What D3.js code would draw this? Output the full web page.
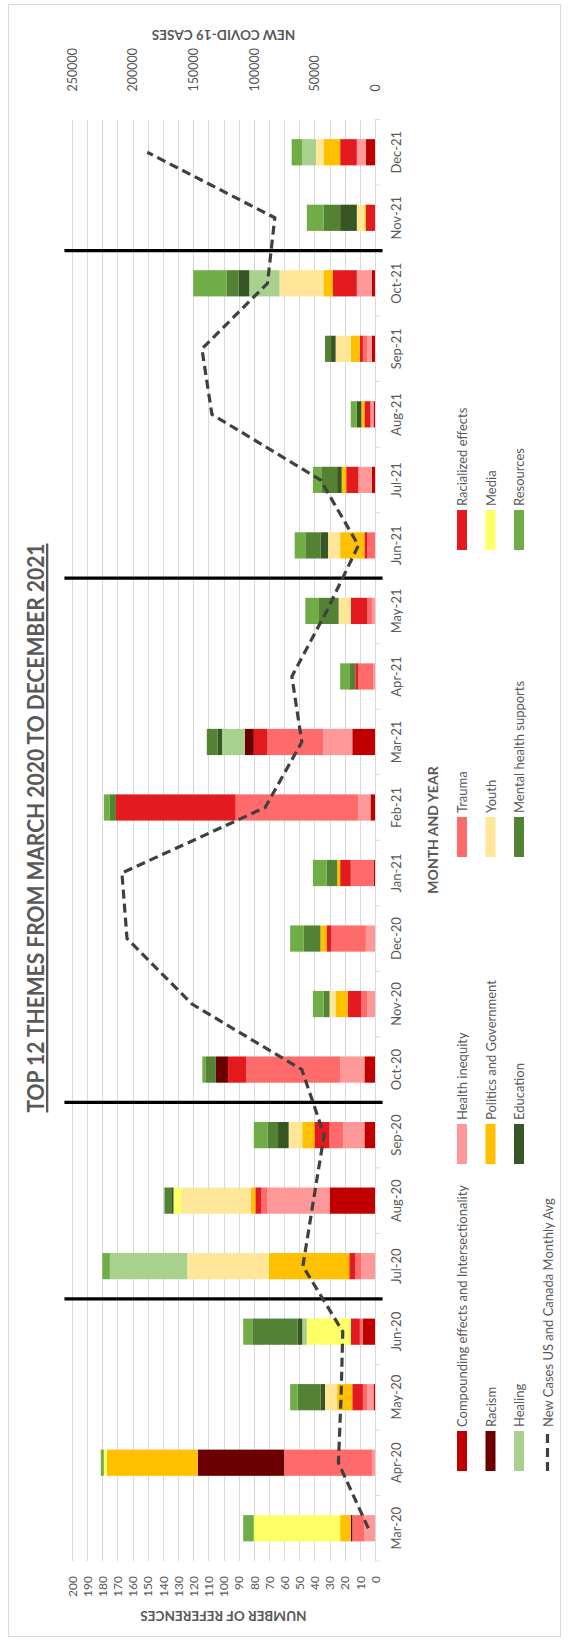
<!DOCTYPE html>
<html>
<head>
<meta charset="utf-8">
<script src="https://cdn.jsdelivr.net/npm/d3@7"></script>
<style>
  html, body { margin: 0; padding: 0; background: #fff; }
  svg { display: block; font-family: Lato, "Open Sans", Arial, sans-serif; }
</style>
</head>
<body>
<svg id="chart" width="569" height="1644"></svg>
<script>
// ---------------- DATA ----------------
const months = ["Mar-20","Apr-20","May-20","Jun-20","Jul-20","Aug-20","Sep-20","Oct-20","Nov-20","Dec-20",
  "Jan-21","Feb-21","Mar-21","Apr-21","May-21","Jun-21","Jul-21","Aug-21","Sep-21","Oct-21","Nov-21","Dec-21"];

const themeNames = ["Compounding effects and Intersectionality","Health inequity","Trauma","Racialized effects",
  "Racism","Politics and Government","Youth","Media",
  "Healing","Education","Mental health supports","Resources"];
const themeColors = ["#C00000","#FF9999","#FF6B6B","#E31B1E",
  "#6B0000","#FFC000","#FFE699","#FFFF66",
  "#A9D18E","#375623","#548235","#70AD47"];

const compounding = [0,0,1,8,0,30,7,7,0,0,1,3,15,0,0,0,2,1,2,2,0,6];
const healthInequity = [7,2,4,0,9,41,14,16,5,6,0,8,19,1,2,0,9,2,3,10,0,6];
const trauma = [8,58,3,2,4,4,9,62,4,23,15,81,37,10,3,5,0,0,3,0,0,0];
const racialized = [0,0,7,6,4,4,10,12,9,3,7,79,9,2,11,2,8,4,2,16,6,11];
const racism = [1,57,0,0,0,0,0,8,0,0,0,0,6,0,0,0,0,0,0,0,0,0];
const politics = [7,60,10,0,53,3,8,0,8,4,2,0,0,0,0,16,3,2,6,6,1,11];
const youth = [0,0,8,0,54,46,9,0,4,0,0,0,0,0,8,8,0,0,10,29,5,5];
const media = [57,2,0,29,0,5,0,0,0,0,0,0,0,0,0,0,0,0,0,0,0,0];
const healing = [0,0,0,3,51,0,0,0,0,0,0,0,15,0,0,0,0,0,0,20,0,9];
const education = [0,0,3,3,0,1,7,0,0,0,0,0,3,0,0,5,3,3,3,7,11,0];
const mentalHealth = [0,0,15,30,0,5,7,7,4,11,7,4,7,4,13,10,10,0,4,8,11,0];
const resources = [7,2,5,6,5,0,9,2,7,9,9,4,0,6,9,7,6,4,0,22,11,7];

const newCases = [5500,30200,28000,26600,59500,50800,42000,60400,151000,204600,208800,90600,
  60400,68600,39800,13700,45000,134600,142800,88700,82700,187900];

const separatorsAfter = ["Jun-20","Sep-20","May-21","Oct-21"];

const refTicks = [0,10,20,30,40,50,60,70,80,90,100,110,120,130,140,150,160,170,180,190,200];
const caseTicks = [0,50000,100000,150000,200000,250000];

const chartTitle = "TOP 12 THEMES FROM MARCH 2020 TO DECEMBER 2021";
const leftAxisTitle = "NUMBER OF REFERENCES";
const rightAxisTitle = "NEW COVID-19 CASES";
const catAxisTitle = "MONTH AND YEAR";
const lineName = "New Cases US and Canada Monthly Avg";

// ---------------- BUILD ----------------
const seriesArrays = [compounding, healthInequity, trauma, racialized, racism, politics, youth, media,
  healing, education, mentalHealth, resources];
const table = months.map((m, i) => {
  const row = { month: m };
  themeNames.forEach((k, j) => row[k] = seriesArrays[j][i]);
  return row;
});

const svg = d3.select("#chart");
const textColor = "#595959";

const plotTop = 119.5, plotBottom = 1561;
const x = d3.scaleLinear().domain([0, 200]).range([375, 72]);
const x2 = d3.scaleLinear().domain([0, 250000]).range([375, 72]);
const y = d3.scaleBand().domain(months).range([plotBottom, plotTop]).paddingInner(0.6).paddingOuter(0.3);
const color = d3.scaleOrdinal().domain(themeNames).range(themeColors);

// outer border
svg.append("rect").attr("x", 8.5).attr("y", 4.5).attr("width", 552).attr("height", 1632)
  .attr("fill", "none").attr("stroke", "#d9d9d9").attr("stroke-width", 1);

// gridlines
svg.append("g").selectAll("line").data(refTicks).join("line")
  .attr("x1", d => Math.round(x(d)) + 0.5).attr("x2", d => Math.round(x(d)) + 0.5)
  .attr("y1", plotTop).attr("y2", plotBottom)
  .attr("stroke", "#d9d9d9").attr("stroke-width", 1);

// category axis line + boundary ticks
const gap = y.step() * y.paddingInner();
const boundaries = months.map(m => y(m) - gap / 2).concat([y(months[0]) + y.bandwidth() + gap / 2]);
svg.append("line").attr("x1", x(0) + 0.5).attr("x2", x(0) + 0.5).attr("y1", plotTop).attr("y2", plotBottom)
  .attr("stroke", "#d9d9d9");
svg.append("g").selectAll("line").data(boundaries).join("line")
  .attr("x1", x(0)).attr("x2", x(0) + 5).attr("y1", d => d).attr("y2", d => d)
  .attr("stroke", "#d9d9d9");

// stacked bars
const stack = d3.stack().keys(themeNames);
const layers = stack(table);
svg.append("g").selectAll("g").data(layers).join("g")
  .attr("fill", d => color(d.key))
  .selectAll("rect").data(d => d).join("rect")
  .attr("x", d => x(d[1]))
  .attr("width", d => Math.max(0, x(d[0]) - x(d[1])))
  .attr("y", d => y(d.data.month))
  .attr("height", y.bandwidth());

// separator lines
svg.append("g").selectAll("line").data(separatorsAfter).join("line")
  .attr("x1", x(205)).attr("x2", x(-5))
  .attr("y1", d => y(d) - gap / 2).attr("y2", d => y(d) - gap / 2)
  .attr("stroke", "#000").attr("stroke-width", 3.2);

// dashed line (secondary axis)
const lineData = months.map((m, i) => ({ m, v: newCases[i] }));
svg.append("path").datum(lineData)
  .attr("fill", "none").attr("stroke", "#404040").attr("stroke-width", 3.2)
  .attr("stroke-dasharray", "9,5")
  .attr("d", d3.line().x(d => x2(d.v)).y(d => y(d.m) + y.bandwidth() / 2));

// bottom axis (number of references)
const gBottom = svg.append("g").attr("transform", `translate(0,${plotBottom})`)
  .call(d3.axisBottom(x).tickValues(refTicks).tickSize(0).tickFormat(d3.format("d")));
gBottom.select(".domain").remove();
gBottom.selectAll("text")
  .attr("transform", "rotate(-90)")
  .attr("x", -15).attr("y", 0).attr("dy", "0.35em")
  .attr("text-anchor", "end")
  .attr("fill", textColor).attr("font-size", 12).attr("font-family", "Lato, sans-serif");

// top axis (new cases)
const gTop = svg.append("g").attr("transform", `translate(0,${plotTop})`)
  .call(d3.axisTop(x2).tickValues(caseTicks).tickSize(0).tickFormat(d3.format("d")));
gTop.select(".domain").remove();
gTop.selectAll("text")
  .attr("transform", "rotate(-90)")
  .attr("x", 28).attr("y", 0).attr("dy", "0.35em")
  .attr("text-anchor", "start")
  .attr("fill", textColor).attr("font-size", 12.5).attr("font-family", "Lato, sans-serif");

// month axis
const gMonth = svg.append("g").attr("transform", `translate(${x(0)},0)`)
  .call(d3.axisRight(y).tickSize(0));
gMonth.select(".domain").remove();
gMonth.selectAll("text")
  .attr("transform", "rotate(-90)")
  .attr("x", 0).attr("y", 26).attr("dy", 0)
  .attr("text-anchor", "middle")
  .attr("fill", textColor).attr("font-size", 13).attr("font-family", "Lato, sans-serif");

// axis titles
svg.append("text").text(rightAxisTitle)
  .attr("transform", `translate(${(x(0) + x(200)) / 2},35) rotate(180)`)
  .attr("text-anchor", "middle").attr("dominant-baseline", "central")
  .attr("font-weight", "bold").attr("font-size", 13.5).attr("fill", textColor);
svg.append("text").text(leftAxisTitle)
  .attr("transform", `translate(${(x(0) + x(200)) / 2},1616) rotate(180)`)
  .attr("text-anchor", "middle").attr("dominant-baseline", "central")
  .attr("font-weight", "bold").attr("font-size", 13.5).attr("fill", textColor);
svg.append("text").text(catAxisTitle)
  .attr("transform", `translate(432,830) rotate(-90)`)
  .attr("text-anchor", "middle").attr("dominant-baseline", "central")
  .attr("font-weight", "bold").attr("font-size", 14).attr("fill", textColor);

// chart title
svg.append("text").text(chartTitle)
  .attr("transform", `translate(44,828) rotate(-90)`)
  .attr("text-anchor", "middle")
  .attr("textLength", 569).attr("lengthAdjust", "spacingAndGlyphs")
  .attr("font-weight", "bold").attr("font-size", 23).attr("fill", textColor)
  .attr("text-decoration", "underline");

// legend
const legendItems = themeNames.map((n, i) => ({ name: n, color: themeColors[i], type: "rect" }))
  .concat([{ name: lineName, color: "#404040", type: "line" }]);
const legX0 = 462, legDX = 28.5, slotStart = 1471, slotW = 307, keyLen = 40;
const lg = svg.append("g").selectAll("g").data(legendItems).join("g")
  .attr("transform", (d, i) => `translate(${legX0 + Math.floor(i / 4) * legDX},${slotStart - (i % 4) * slotW})`);
lg.filter(d => d.type === "rect").append("rect")
  .attr("x", -5).attr("y", -keyLen).attr("width", 10).attr("height", keyLen)
  .attr("fill", d => d.color);
lg.filter(d => d.type === "line").append("line")
  .attr("x1", 0).attr("x2", 0).attr("y1", 0).attr("y2", -keyLen)
  .attr("stroke", d => d.color).attr("stroke-width", 3.2).attr("stroke-dasharray", "9,5");
lg.append("text").text(d => d.name)
  .attr("transform", `translate(0,${-keyLen - 4}) rotate(-90)`)
  .attr("text-anchor", "start").attr("dominant-baseline", "central")
  .attr("font-size", 13).attr("fill", textColor);
</script>
</body>
</html>
